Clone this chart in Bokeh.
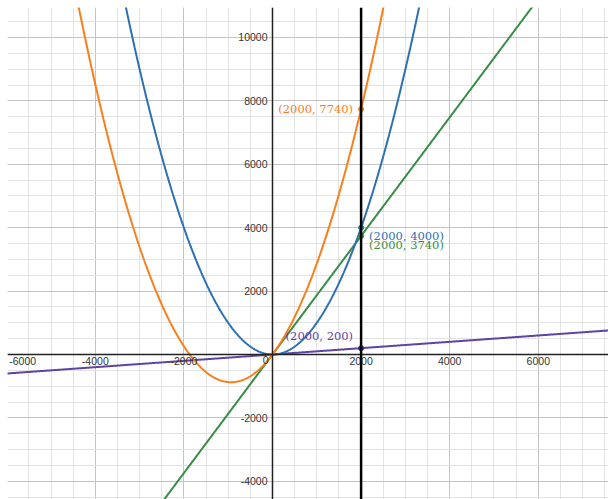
import numpy as np
from bokeh.plotting import figure
from bokeh.models import Span, Grid, SingleIntervalTicker, ColumnDataSource
from bokeh.core.properties import value
from bokeh.embed import file_html
from bokeh.resources import INLINE

# --- data -------------------------------------------------------------
# curve coefficients read from the labelled points: y = a*x^2 + b*x
blue_coef = [0.001, 0.0]      # (2000, 4000)
orange_coef = [0.001, 1.87]   # (2000, 7740)
green_coef = [0.0, 1.87]      # (2000, 3740)
purple_coef = [0.0, 0.1]      # (2000, 200)
vline_x = 2000

point_x = [2000, 2000, 2000, 2000]
point_y = [7740, 4000, 3740, 200]
point_labels = ["(2000, 7740)", "(2000, 4000)", "(2000, 3740)", "(2000, 200)"]

x_ticks = [-6000, -4000, -2000, 2000, 4000, 6000]
x_tick_labels = ["-6000", "-4000", "-2000", "2000", "4000", "6000"]
y_ticks = [10000, 8000, 6000, 4000, 2000, -2000, -4000]
y_tick_labels = ["10000", "8000", "6000", "4000", "2000", "-2000", "-4000"]

BLUE = "#2d70b3"
ORANGE = "#fa7e19"
GREEN = "#388c46"
PURPLE = "#6042a6"

x_start, x_end = -5982, 7585
y_start, y_end = -4574, 10946

p = figure(width=608, height=499, output_backend="svg", toolbar_location=None,
           x_range=(x_start, x_end), y_range=(y_start, y_end),
           x_axis_location=None, y_axis_location=None,
           min_border_left=7, min_border_top=7, min_border_right=0, min_border_bottom=0)
p.outline_line_color = None
p.background_fill_color = "white"
p.border_fill_color = "white"

xt = SingleIntervalTicker(interval=2000, num_minor_ticks=4)
yt = SingleIntervalTicker(interval=2000, num_minor_ticks=4)
for dim, tk in ((0, xt), (1, yt)):
    g = Grid(dimension=dim, ticker=tk, grid_line_color="#c4c4c4", grid_line_width=1,
             minor_grid_line_color="#e3e3e3", minor_grid_line_width=1)
    p.add_layout(g)

# axes lines
p.add_layout(Span(location=0, dimension="width", line_color="#222222", line_width=1.5))
p.add_layout(Span(location=0, dimension="height", line_color="#222222", line_width=1.5))

# curves
xs = np.linspace(-6500, 8000, 1200)
def evalc(c):
    return c[0] * xs ** 2 + c[1] * xs

p.line(xs, evalc(purple_coef), line_color=PURPLE, line_width=2)
p.line(xs, evalc(green_coef), line_color=GREEN, line_width=2)
p.line(xs, evalc(blue_coef), line_color=BLUE, line_width=2)
p.line(xs, evalc(orange_coef), line_color=ORANGE, line_width=2)

# vertical line x = 2000
p.add_layout(Span(location=vline_x, dimension="height", line_color="black", line_width=2.5))

# points
pt_colors = [ORANGE, BLUE, GREEN, "#2a2a8a"]
p.scatter(point_x, point_y, size=5, color=pt_colors)

# point labels
lab_src = ColumnDataSource(dict(
    x=point_x, y=point_y, t=point_labels, c=[ORANGE, BLUE, GREEN, PURPLE],
    xo=[-8, 8, 8, -8], yo=[0, 8, 9, -12], al=["right", "left", "left", "right"]))
p.text(x="x", y="y", text="t", text_color="c", x_offset="xo", y_offset="yo",
       text_align="al", text_baseline="middle", text_font=value("DejaVu Serif"),
       text_font_size="11.5px", source=lab_src)

# tick labels
edge = x_start + 40
xl_x = [max(t, edge) for t in x_ticks]
xl_al = ["left" if t < edge else "center" for t in x_ticks]
xsrc = ColumnDataSource(dict(x=xl_x, y=[0] * len(x_ticks), t=x_tick_labels, al=xl_al))
p.text(x="x", y="y", text="t", text_align="al", text_baseline="middle", y_offset=7,
       text_color="#333333", text_font=value("Liberation Sans"), text_font_size="10.5px",
       source=xsrc)
ysrc = ColumnDataSource(dict(x=[0] * len(y_ticks), y=y_ticks, t=y_tick_labels))
p.text(x="x", y="y", text="t", text_align="right", text_baseline="middle", x_offset=-5,
       text_color="#333333", text_font=value("Liberation Sans"), text_font_size="10.5px",
       source=ysrc)
p.text(x=[0], y=[0], text=["0"], text_align="right", text_baseline="middle",
       x_offset=-4, y_offset=6, text_color="#333333", text_font=value("Liberation Sans"),
       text_font_size="10.5px")

open("out.html", "w").write(file_html(p, INLINE))
